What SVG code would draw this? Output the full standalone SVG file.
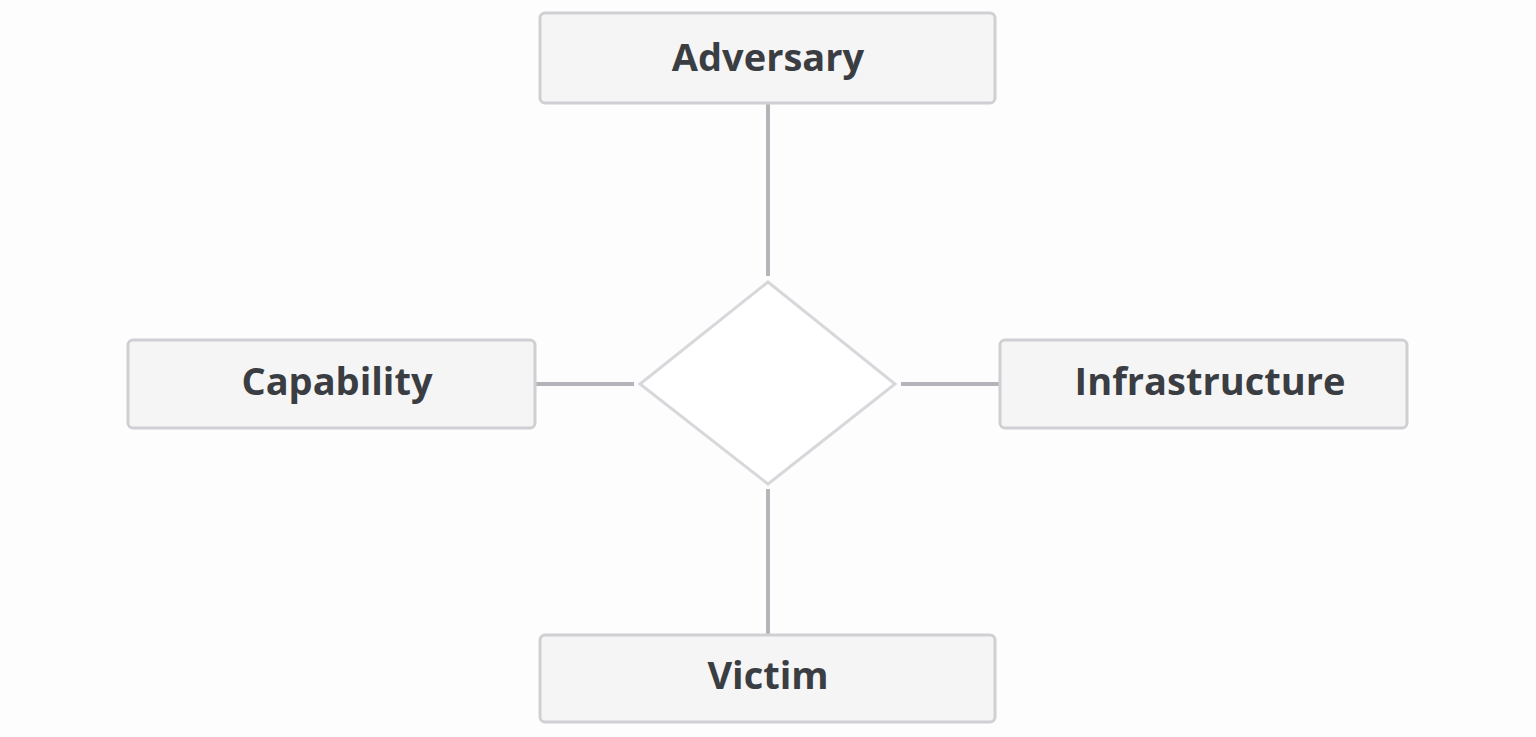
<svg xmlns="http://www.w3.org/2000/svg" width="1536" height="737" viewBox="0 0 1536 737">
<style>
.box{fill:#f5f5f5;stroke:#d0d0d4;stroke-width:3}
.lbl{font-family:"Open Sans","Noto Sans",sans-serif;font-weight:700;font-size:38px;fill:#3a3d42;text-anchor:middle;dominant-baseline:central}
.con{stroke:#b4b5ba;stroke-width:4;fill:none}
</style>
<rect width="1536" height="737" fill="#fdfdfd"/>
<g id="connectors">
<line class="con" x1="768" y1="104" x2="768" y2="276"/>
<line class="con" x1="768" y1="489" x2="768" y2="635"/>
<line class="con" x1="536" y1="384" x2="634" y2="384"/>
<line class="con" x1="901" y1="384" x2="999" y2="384"/>
</g>
<g id="center"><polygon points="768,282 895,384 768,484 640,384" fill="#fff" stroke="#d8d8dc" stroke-width="3"/></g>
<g id="adversary"><rect class="box" x="540" y="13" width="455" height="90" rx="5"/><text class="lbl" x="768" y="56">Adversary</text></g>
<g id="capability"><rect class="box" x="128" y="340" width="407" height="88" rx="5"/><text class="lbl" x="337" y="380">Capability</text></g>
<g id="infrastructure"><rect class="box" x="1000" y="340" width="407" height="88" rx="5"/><text class="lbl" x="1210" y="380">Infrastructure</text></g>
<g id="victim"><rect class="box" x="540" y="635" width="455" height="87" rx="5"/><text class="lbl" x="768" y="674">Victim</text></g>
</svg>
